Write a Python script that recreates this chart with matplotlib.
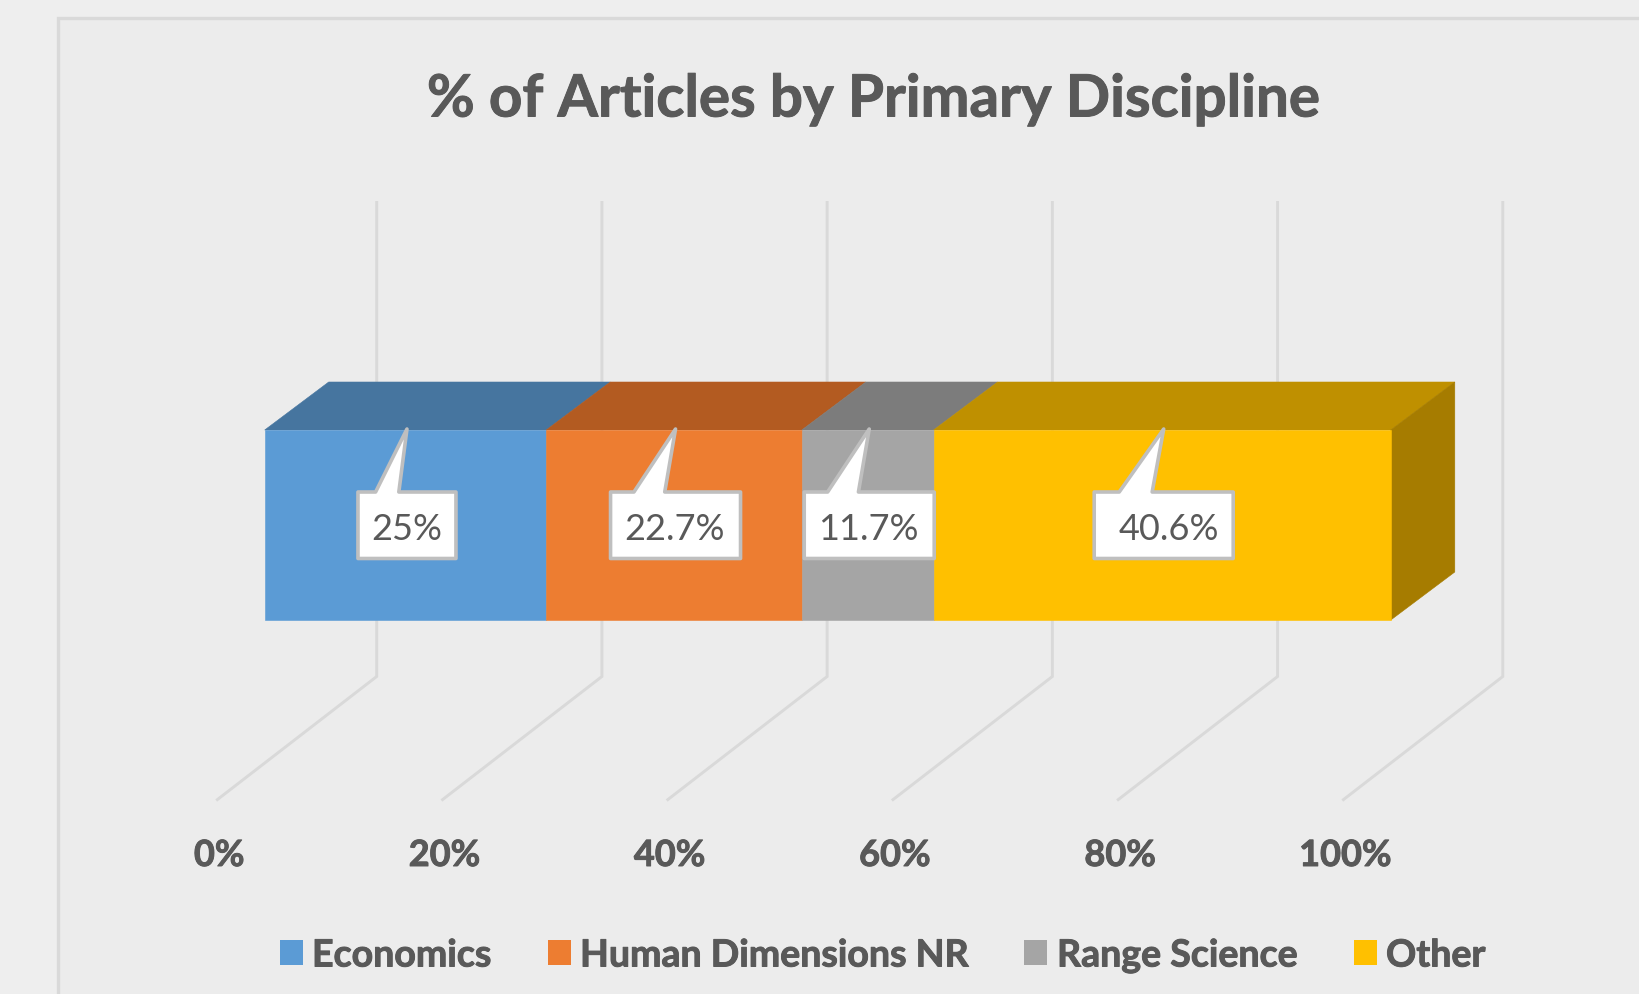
import matplotlib
matplotlib.use("Agg")
import matplotlib.pyplot as plt
import matplotlib.patheffects as pe
import numpy as np

plt.rcParams["font.family"] = ["Lato", "DejaVu Sans"]

# data
disciplines = ["Economics", "Human Dimensions NR", "Range Science", "Other"]
shares = [25, 22.7, 11.7, 40.6]
share_labels = ["25%", "22.7%", "11.7%", "40.6%"]
axis_ticks = [0, 20, 40, 60, 80, 100]
axis_labels = ["0%", "20%", "40%", "60%", "80%", "100%"]

# colours: front face, top face
front_colors = ["#5B9BD5", "#ED7D31", "#A5A5A5", "#FFC000"]
top_colors = ["#46759F", "#B35B21", "#7C7C7C", "#BF9000"]
side_color = "#A67C00"
text_color = "#595959"
grid_color = "#D9D9D9"

# layout, all in pixels of the 1640x995 picture
X0, X100 = 264.7, 1390.8
PX_PER_PCT = (X100 - X0) / 100
BAR_TOP, BAR_BOTTOM = 431, 621
DEPTH_X, DEPTH_Y = 64, 48
box_widths = [98, 130, 130, 139]
text_shift = [0, -1, -1, 5]
legend_squares = [280, 548, 1024, 1354]
legend_text = [312, 580, 1057, 1386]
heavier = [pe.withStroke(linewidth=0.7, foreground=text_color)]


def pct(px):
    # horizontal pixels to axis units
    return (px - X0) / PX_PER_PCT


def dx(px):
    return px / PX_PER_PCT


fig = plt.figure(figsize=(16.4, 9.95), dpi=100, facecolor="#EEEEEE")
ax = fig.add_axes([0, 0, 1, 1])
ax.set_xlim(pct(0), pct(1640))
ax.set_ylim(995, 0)
ax.axis("off")

# chart area
ax.fill([pct(57.5), pct(1660), pct(1660), pct(57.5)], [19, 19, 1010, 1010],
        facecolor="#ECECEC", edgecolor=grid_color, lw=2.4, zorder=0)

# 3d gridlines: wall then floor
for t in axis_ticks:
    back = t + dx(112)
    ax.plot([back, back, t - dx(48.5)], [202, 677.5, 801.5], color=grid_color,
            lw=2.1, solid_joinstyle="miter", solid_capstyle="butt", zorder=1)

for t, lab in zip(axis_ticks, axis_labels):
    ax.text(t - dx(45.5), 856.5, lab, ha="center", va="center", fontsize=26,
            fontweight="bold", color=text_color, path_effects=heavier)

# stacked bar
lefts = np.concatenate([[0], np.cumsum(shares)[:-1]])
for left, v, fc, tc in zip(lefts, shares, front_colors, top_colors):
    right = left + v
    ax.fill([left, right, right, left], [BAR_TOP, BAR_TOP, BAR_BOTTOM, BAR_BOTTOM],
            color=fc, lw=0.4, zorder=3)
    ax.fill([left, right, right + dx(DEPTH_X), left + dx(DEPTH_X)],
            [BAR_TOP, BAR_TOP, BAR_TOP - DEPTH_Y, BAR_TOP - DEPTH_Y],
            color=tc, lw=0.4, zorder=2)
end = lefts[-1] + shares[-1]
ax.fill([end, end + dx(DEPTH_X), end + dx(DEPTH_X), end],
        [BAR_TOP, BAR_TOP - DEPTH_Y, BAR_BOTTOM - DEPTH_Y, BAR_BOTTOM],
        color=side_color, lw=0.4, zorder=2)

# callouts
for left, v, lab, w, shift in zip(lefts, shares, share_labels, box_widths, text_shift):
    c = left + v / 2 + dx(1.5)
    xs = [c - dx(w / 2), c - dx(0.32 * w), c, c - dx(0.083 * w), c + dx(w / 2),
          c + dx(w / 2), c - dx(w / 2)]
    ys = [493, 493, 430, 493, 493, 559.5, 559.5]
    ax.fill(xs, ys, facecolor="white", edgecolor="#BFBFBF", lw=2.6,
            joinstyle="round", zorder=4)
    ax.text(c + dx(shift), 530, lab, ha="center", va="center", fontsize=26,
            color=text_color, zorder=5)

ax.text(pct(873.5), 101, "% of Articles by Primary Discipline", ha="center",
        va="center", fontsize=42, fontweight="bold", color=text_color,
        path_effects=heavier)

# legend
for name, fc, sq, tx in zip(disciplines, front_colors, legend_squares, legend_text):
    ax.fill([pct(sq), pct(sq + 23), pct(sq + 23), pct(sq)], [941, 941, 966, 966],
            color=fc, lw=0)
    ax.text(pct(tx), 956.5, name, ha="left", va="center", fontsize=27,
            fontweight="bold", color=text_color, path_effects=heavier)

fig.savefig("out.png", dpi=100, facecolor=fig.get_facecolor())
